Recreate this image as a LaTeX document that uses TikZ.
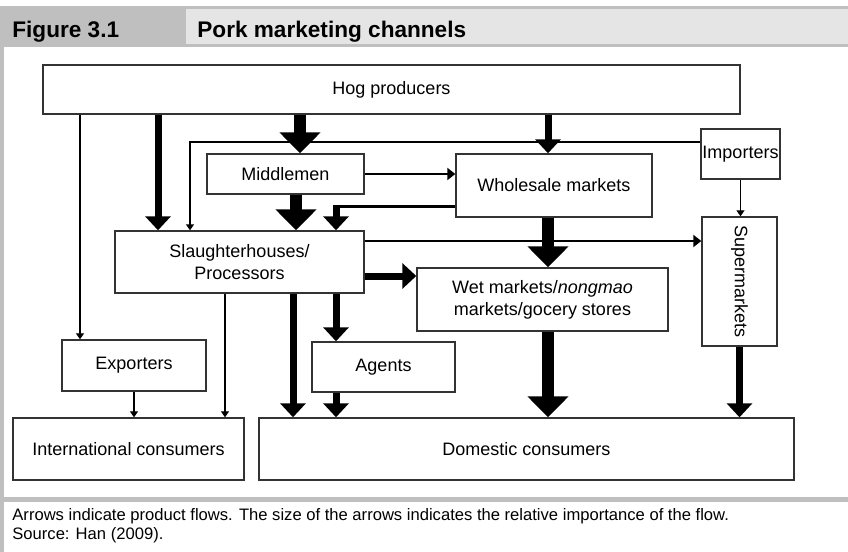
\documentclass[tikz,border=0pt]{standalone}
\usepackage{fontspec}
\setmainfont{Liberation Sans}
\usepackage{tikz}
\usetikzlibrary{arrows.meta,positioning}

\begin{document}
\begin{tikzpicture}[x=0.5pt, y=-0.5pt,
    box/.style={draw=black!80, line width=0.7pt, inner sep=0pt, align=center, font=\fontsize{9}{11}\selectfont},
    bigflow/.style={line width=6pt, -{Triangle[width=20pt,length=10.5pt]}},
    medflow/.style={line width=3.5pt, -{Triangle[width=12.5pt,length=7pt]}},
    smallflow/.style={line width=1pt, -{Triangle[width=6pt,length=4pt]}},
    thinflow/.style={line width=0.6pt, -{Triangle[width=4pt,length=3pt]}}]
         \useasboundingbox (0,0) rectangle (848,552);

         % Frame and caption
         \fill[black!25] (0,6) rectangle (848,47);
         \fill[black!10] (186,9) rectangle (848,44);
         \fill[black!25] (0,47) rectangle (4,552);
         \fill[black!25] (0,497) rectangle (848,502);
         \node[anchor=base west, inner sep=0pt, font=\bfseries\fontsize{11.3}{13}\selectfont] (fignum) at (12,37) {Figure 3.1};
         \node[anchor=base west, inner sep=0pt, font=\bfseries\fontsize{11.3}{13}\selectfont] (figtitle) at (197,37) {Pork marketing channels};
         \node[anchor=base west, inner sep=0pt, font=\fontsize{8.3}{10}\selectfont] (note) at (12,520) {Arrows indicate product flows. The size of the arrows indicates the relative importance of the flow.};
         \node[anchor=base west, inner sep=0pt, font=\fontsize{8.3}{10}\selectfont] (source) at (12,539) {Source: Han (2009).};

         % Define nodes
         \node[box, minimum width=348.5pt, minimum height=24.5pt] (hog) at (391.5,89.5) {Hog producers};
         \node[box, minimum width=78.5pt, minimum height=20pt] (mid) at (285.5,174) {Middlemen};
         \node[box, minimum width=98pt, minimum height=31.5pt] (whole) at (554,185.5) {Wholesale markets};
         \node[box, minimum width=39.5pt, minimum height=25pt] (imp) at (740.5,154) {Importers};
         \node[box, minimum width=124.5pt, minimum height=31pt] (slh) at (239.5,262) {Slaughterhouses/\\Processors};
         \node[box, minimum width=125.5pt, minimum height=31.5pt] (wet) at (542.5,299.5) {Wet markets/\textit{nongmao}\\markets/gocery stores};
         \node[box, minimum width=37.5pt, minimum height=64.5pt] (super) at (739.5,281.5) {\rotatebox{-90}{Supermarkets}};
         \node[box, minimum width=72pt, minimum height=25.5pt] (exp) at (134,365.5) {Exporters};
         \node[box, minimum width=71.5pt, minimum height=25pt] (agents) at (383.5,367) {Agents};
         \node[box, minimum width=115.5pt, minimum height=31pt] (intl) at (128.5,449) {International consumers};
         \node[box, minimum width=267.5pt, minimum height=31pt] (dom) at (526.5,449) {Domestic consumers};

         % Arrow columns and rows
         \coordinate (x80) at (80,0);
         \coordinate (x158) at (158,0);
         \coordinate (x190) at (190,0);
         \coordinate (x225) at (225,0);
         \coordinate (x293) at (293,0);
         \coordinate (x296) at (296,0);
         \coordinate (x300) at (300,0);
         \coordinate (x336) at (336,0);
         \coordinate (x548) at (548,0);
         \coordinate (y142) at (0,142);
         \coordinate (y241) at (0,241);
         \coordinate (y276) at (0,276);
         \coordinate (bend) at (336,206);

         % Draw edges
         \draw[thinflow] (hog.south -| x80) -- (exp.north -| x80);
         \draw[medflow] (hog.south -| x158) -- (slh.north -| x158);
         \draw[bigflow] (hog.south -| x300) -- (mid.north -| x300);
         \draw[medflow] (hog.south -| x548) -- (whole.north -| x548);
         \draw[thinflow, line width=0.9pt] (imp.west |- y142) -| (slh.north -| x190);
         \draw[smallflow] (mid.east) -- (whole.west |- mid.east);
         \draw[bigflow] (mid.south -| x296) -- (slh.north -| x296);
         \draw[line width=1.5pt] (whole.west |- bend) -- (bend);
         \draw[medflow] ([yshift=0.75pt]bend) -- (slh.north -| bend);
         \draw[bigflow] (whole.south -| x548) -- (wet.north -| x548);
         \draw[smallflow] (slh.east |- y241) -- (super.west |- y241);
         \draw[medflow] (slh.east |- y276) -- (wet.west |- y276);
         \draw[thinflow] (imp.south) -- (super.north -| imp.south);
         \draw[medflow] (slh.south -| x293) -- (dom.north -| x293);
         \draw[medflow] (slh.south -| x336) -- (agents.north -| x336);
         \draw[medflow] (agents.south -| x336) -- (dom.north -| x336);
         \draw[thinflow] (slh.south -| x225) -- (intl.north -| x225);
         \draw[thinflow] (exp.south) -- (intl.north -| exp.south);
         \draw[bigflow] (wet.south -| x548) -- (dom.north -| x548);
         \draw[medflow] (super.south) -- (dom.north -| super.south);
       \end{tikzpicture}
\end{document}
